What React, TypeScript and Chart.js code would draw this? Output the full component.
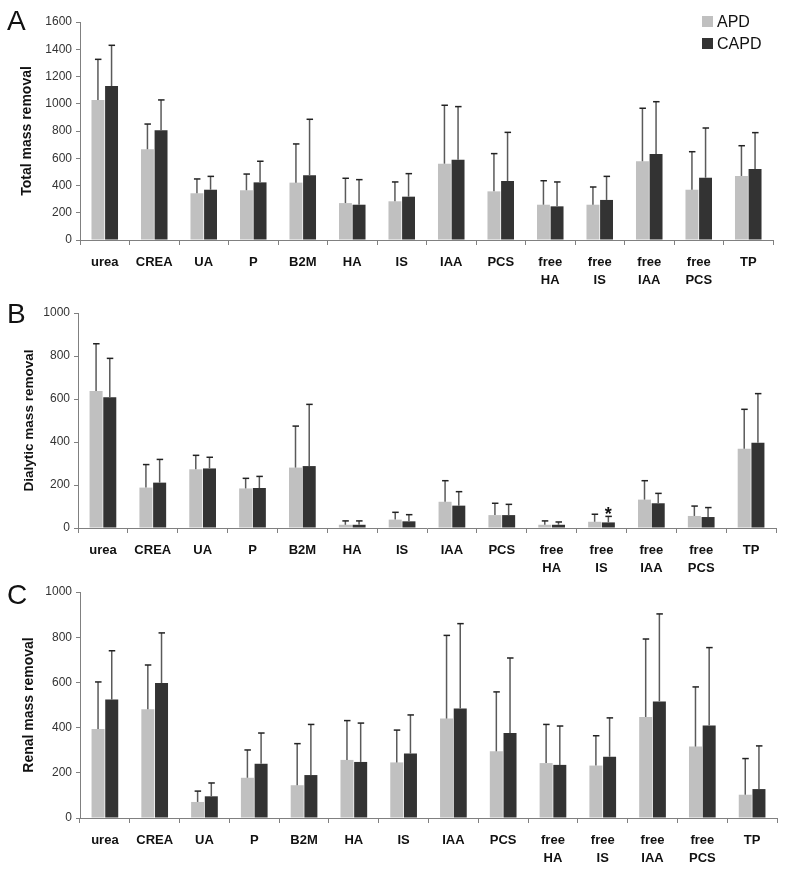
import React, { useEffect, useRef } from 'react';
import { Chart, registerables } from 'chart.js';

Chart.register(...registerables);

const FONT = '"Liberation Sans", Arial, Helvetica, sans-serif';

const categories: (string | string[])[] = [
  'urea', 'CREA', 'UA', 'P', 'B2M', 'HA', 'IS', 'IAA', 'PCS',
  ['free', 'HA'], ['free', 'IS'], ['free', 'IAA'], ['free', 'PCS'], 'TP',
];
const seriesNames = ['APD', 'CAPD'];
const seriesColors = ['#c0c0c0', '#333333'];

// Panel A: total mass removal
const totalAPD = [1028, 666, 343, 365, 421, 271, 284, 560, 357, 259, 259, 578, 369, 470];
const totalAPDsd = [298, 185, 105, 119, 284, 182, 142, 429, 277, 176, 130, 389, 279, 222];
const totalCAPD = [1130, 805, 369, 423, 475, 259, 318, 589, 433, 247, 294, 631, 457, 521];
const totalCAPDsd = [299, 223, 98, 155, 411, 184, 169, 390, 357, 179, 173, 384, 365, 267];

// Panel B: dialytic mass removal
const dialAPD = [637, 188, 273, 184, 281, 15, 39, 122, 60, 15, 29, 132, 56, 369];
const dialAPDsd = [220, 107, 65, 47, 193, 18, 34, 98, 55, 18, 35, 88, 46, 183];
const dialCAPD = [608, 211, 277, 186, 288, 15, 31, 104, 60, 15, 26, 115, 51, 397];
const dialCAPDsd = [181, 108, 52, 54, 287, 18, 31, 65, 50, 13, 28, 46, 44, 228];

// Panel C: renal mass removal
const renalAPD = [394, 481, 71, 178, 145, 257, 246, 440, 295, 243, 232, 447, 316, 103];
const renalAPDsd = [208, 196, 48, 123, 184, 174, 143, 368, 263, 171, 132, 345, 264, 160];
const renalCAPD = [524, 597, 96, 240, 190, 248, 285, 484, 376, 235, 271, 516, 409, 128];
const renalCAPDsd = [216, 222, 59, 136, 224, 172, 171, 376, 332, 172, 172, 387, 345, 191];

const panelLetters = ['A', 'B', 'C'];
const yTitles = ['Total mass removal', 'Dialytic mass removal', 'Renal mass removal'];
const yMaxes = [1600, 1000, 1000];
const yStep = 200;

// significance markers: panel index, category index, series index
const sigPanel = [1];
const sigCategory = [10];
const sigSeries = [1];
const sigMark = ['*'];

const panelMeans = [
  [totalAPD, totalCAPD],
  [dialAPD, dialCAPD],
  [renalAPD, renalCAPD],
];
const panelSDs = [
  [totalAPDsd, totalCAPDsd],
  [dialAPDsd, dialCAPDsd],
  [renalAPDsd, renalCAPDsd],
];

const layouts = [
  { height: 290, top: 22, right: 17, yWidth: 80, xHeight: 50, letterY: 30, titlePad: 19, titleSize: 14 },
  { height: 285, top: 23, right: 14, yWidth: 78, xHeight: 47, letterY: 33, titlePad: 21, titleSize: 13.5 },
  { height: 296, top: 17, right: 13, yWidth: 80, xHeight: 53, letterY: 29, titlePad: 21, titleSize: 14 },
];

const errorBarPlugin = {
  id: 'errorBars',
  afterDatasetsDraw(chart: any) {
    const ctx = chart.ctx;
    const y = chart.scales.y;
    chart.data.datasets.forEach((ds: any, i: number) => {
      const meta = chart.getDatasetMeta(i);
      meta.data.forEach((bar: any, j: number) => {
        const top = y.getPixelForValue(ds.data[j] + ds.errors[j]);
        ctx.save();
        ctx.lineWidth = 1.5;
        ctx.strokeStyle = '#5a5a5a';
        ctx.beginPath();
        ctx.moveTo(bar.x, bar.y);
        ctx.lineTo(bar.x, top);
        ctx.stroke();
        ctx.strokeStyle = '#222';
        ctx.beginPath();
        ctx.moveTo(bar.x - 3, top);
        ctx.lineTo(bar.x + 3.5, top);
        ctx.stroke();
        ctx.restore();
      });
    });
  },
};

function makePanel(canvas: HTMLCanvasElement, p: number) {
  const L = layouts[p];
  const decor = {
    id: 'decor' + p,
    afterDraw(chart: any) {
      const ctx = chart.ctx;
      ctx.save();
      ctx.fillStyle = '#111';
      ctx.font = `28px ${FONT}`;
      ctx.textBaseline = 'alphabetic';
      ctx.textAlign = 'left';
      ctx.fillText(panelLetters[p], 7, L.letterY);
      if (p === 0) {
        ctx.font = `16px ${FONT}`;
        seriesNames.forEach((name, k) => {
          ctx.fillStyle = seriesColors[k];
          ctx.fillRect(702, 16 + k * 22, 11, 11);
          ctx.fillStyle = '#111';
          ctx.fillText(name, 717, 27 + k * 22);
        });
      }
      const y = chart.scales.y;
      sigPanel.forEach((sp, k) => {
        if (sp !== p) return;
        const ds: any = chart.data.datasets[sigSeries[k]];
        const bar: any = chart.getDatasetMeta(sigSeries[k]).data[sigCategory[k]];
        const top = y.getPixelForValue(ds.data[sigCategory[k]] + ds.errors[sigCategory[k]]);
        ctx.fillStyle = '#111';
        ctx.font = `bold 18px ${FONT}`;
        ctx.textAlign = 'center';
        ctx.fillText(sigMark[k], bar.x, top + 4);
      });
      ctx.restore();
    },
  };
  return new Chart(canvas, {
    type: 'bar',
    data: {
      labels: categories as any,
      datasets: seriesNames.map((name, k) => ({
        label: name,
        data: panelMeans[p][k],
        errors: panelSDs[p][k],
        backgroundColor: seriesColors[k],
        borderWidth: 0,
        categoryPercentage: 0.55,
        barPercentage: 0.95,
      })) as any,
    },
    options: {
      responsive: true,
      maintainAspectRatio: false,
      animation: false,
      layout: { padding: { top: L.top, right: L.right, bottom: 0, left: 0 } },
      plugins: { legend: { display: false }, tooltip: { enabled: false } },
      scales: {
        x: {
          grid: { display: true, drawOnChartArea: false, drawTicks: true, tickLength: 5, color: '#808080', offset: true },
          border: { color: '#808080' },
          ticks: {
            font: { family: FONT, size: 13, weight: 'bold', lineHeight: 1.4 },
            color: '#111',
            padding: 8,
            maxRotation: 0,
            autoSkip: false,
          },
          afterFit: (s: any) => { s.height = L.xHeight; },
        },
        y: {
          min: 0,
          max: yMaxes[p],
          ticks: {
            stepSize: yStep,
            font: { family: FONT, size: 12 },
            color: '#333',
            padding: 4,
            callback: (v: any) => String(v),
          },
          grid: { drawOnChartArea: false, drawTicks: true, tickLength: 4, color: '#808080' },
          border: { color: '#808080' },
          title: {
            display: true,
            text: yTitles[p],
            font: { family: FONT, size: L.titleSize, weight: 'bold' },
            color: '#111',
            padding: { top: L.titlePad, bottom: 0 },
          },
          afterFit: (s: any) => { s.width = L.yWidth; },
        },
      },
    } as any,
    plugins: [errorBarPlugin, decor],
  });
}

function Panel({ index }: { index: number }) {
  const ref = useRef<HTMLCanvasElement>(null);
  useEffect(() => {
    if (!ref.current) return;
    const chart = makePanel(ref.current, index);
    return () => chart.destroy();
  }, [index]);
  return (
    <div style={{ position: 'relative', width: 790, height: layouts[index].height }}>
      <canvas ref={ref} />
    </div>
  );
}

export default function App() {
  useEffect(() => {
    document.body.style.margin = '0';
    document.body.style.background = '#fff';
  }, []);
  return (
    <div style={{ width: 790, background: '#fff' }}>
      <Panel index={0} />
      <Panel index={1} />
      <Panel index={2} />
    </div>
  );
}
